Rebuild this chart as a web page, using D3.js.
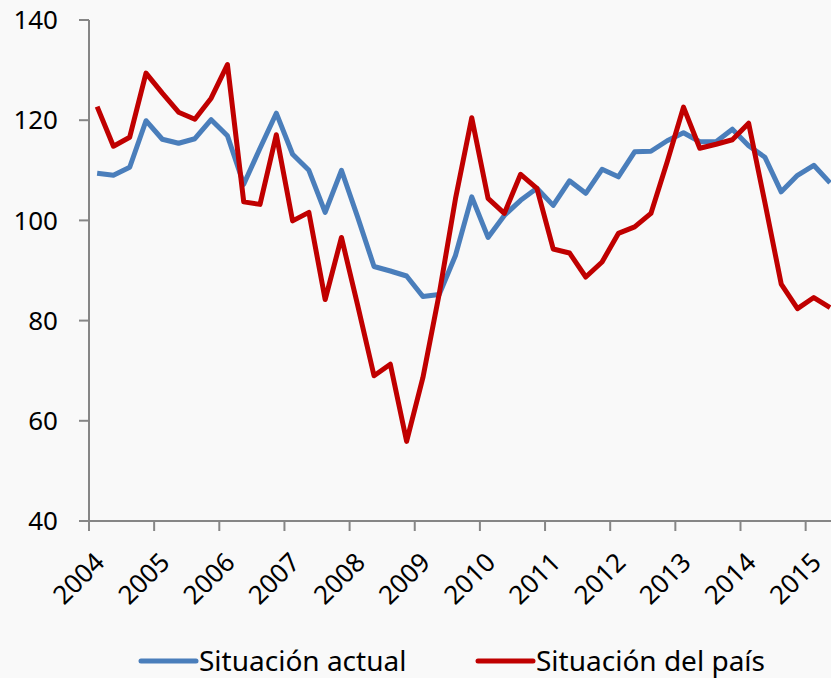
<!DOCTYPE html>
<html>
<head>
<meta charset="utf-8">
<script src="https://cdn.jsdelivr.net/npm/d3@7"></script>
<style>
  body { margin: 0; background: #f9f9f9; }
  svg { display: block; font-family: "Noto Sans", sans-serif; }
</style>
</head>
<body>
<svg id="chart" width="831" height="678"></svg>
<script>
// quarterly index, 2004 Q1 .. 2015 Q2
var years = ['2004', '2005', '2006', '2007', '2008', '2009', '2010', '2011', '2012', '2013', '2014', '2015']
var yTicks = [40, 60, 80, 100, 120, 140]

var situacionActual = [
  109.4, 109.0, 110.6, 119.9, 116.2, 115.4, 116.3, 120.1,
  116.9, 107.2, 114.4, 121.4, 113.2, 110.0, 101.6, 110.0,
  100.6, 90.8, 89.9, 88.9, 84.8, 85.2, 93.0, 104.7,
  96.6, 101.0, 104.0, 106.4, 103.0, 107.9, 105.4, 110.2,
  108.7, 113.7, 113.8, 115.9, 117.5, 115.7, 115.7, 118.2,
  114.9, 112.6, 105.7, 109.0, 111.0, 107.5
]
var situacionPais = [
  122.7, 114.8, 116.6, 129.4, 125.4, 121.6, 120.2, 124.4,
  131.1, 103.7, 103.2, 117.1, 99.9, 101.6, 84.2, 96.6,
  83.0, 69.0, 71.3, 55.9, 68.6, 85.3, 104.3, 120.5,
  104.4, 101.4, 109.2, 106.4, 94.3, 93.5, 88.7, 91.7,
  97.4, 98.7, 101.4, 111.7, 122.6, 114.4, 115.2, 116.1,
  119.4, 103.5, 87.3, 82.4, 84.6, 82.6
]

var series = [
  { name: 'Situación actual', values: situacionActual, color: '#4a7ebb' },
  { name: 'Situación del país', values: situacionPais, color: '#c00000' }
]

var svg = d3.select('#chart'),
  plotLeft = 89, plotTop = 20, plotBottom = 521,
  quarter = 65.15 / 4

var x = d3.scaleLinear().domain([0, situacionActual.length]).range([plotLeft, plotLeft + quarter * situacionActual.length])
var y = d3.scaleLinear().domain([40, 140]).range([plotBottom, plotTop])

var axisColor = '#868686'

// y axis
var yAxis = svg.append('g').attr('transform', 'translate(' + plotLeft + ',0)')
yAxis.append('line').attr('y1', y(140)).attr('y2', y(40)).attr('stroke', axisColor).attr('stroke-width', 2)
yAxis.selectAll('.tick').data(yTicks).enter().append('line')
  .attr('class', 'tick')
  .attr('x1', -10).attr('x2', 0)
  .attr('y1', function(d) { return y(d) }).attr('y2', function(d) { return y(d) })
  .attr('stroke', axisColor).attr('stroke-width', 2)
yAxis.selectAll('text').data(yTicks).enter().append('text')
  .attr('x', -31)
  .attr('y', function(d) { return y(d) })
  .attr('dy', '0.35em')
  .attr('text-anchor', 'end')
  .attr('font-size', 26)
  .attr('fill', '#000')
  .text(function(d) { return d })

// x axis
var xAxis = svg.append('g')
xAxis.append('line').attr('x1', plotLeft).attr('x2', x(situacionActual.length)).attr('y1', plotBottom).attr('y2', plotBottom)
  .attr('stroke', axisColor).attr('stroke-width', 2)
xAxis.selectAll('.tick').data(years).enter().append('line')
  .attr('class', 'tick')
  .attr('x1', function(d, i) { return x(i * 4) }).attr('x2', function(d, i) { return x(i * 4) })
  .attr('y1', plotBottom).attr('y2', plotBottom + 10)
  .attr('stroke', axisColor).attr('stroke-width', 2)
xAxis.selectAll('text').data(years).enter().append('text')
  .attr('transform', function(d, i) { return 'translate(' + (x(i * 4 + 0.5) + 9) + ',' + 564 + ') rotate(-45)' })
  .attr('text-anchor', 'end')
  .attr('font-size', 26)
  .attr('fill', '#000')
  .text(function(d) { return d })

// lines
var line = d3.line()
  .x(function(d, i) { return x(i + 0.5) })
  .y(function(d) { return y(d) })

svg.selectAll('.series').data(series).enter().append('path')
  .attr('class', 'series')
  .attr('d', function(s) { return line(s.values) })
  .attr('fill', 'none')
  .attr('stroke', function(s) { return s.color })
  .attr('stroke-width', 5)
  .attr('stroke-linejoin', 'round')

// legend
var legendX = [141, 478]
var legend = svg.selectAll('.legend').data(series).enter().append('g')
  .attr('class', 'legend')
  .attr('transform', function(s, i) { return 'translate(' + legendX[i] + ',661)' })
legend.append('line')
  .attr('x1', 0).attr('x2', 55)
  .attr('stroke', function(s) { return s.color })
  .attr('stroke-width', 5)
  .attr('stroke-linecap', 'round')
legend.append('text')
  .attr('x', 58)
  .attr('y', 10)
  .attr('font-size', 28)
  .attr('fill', '#000')
  .text(function(s) { return s.name })
</script>
</body>
</html>
